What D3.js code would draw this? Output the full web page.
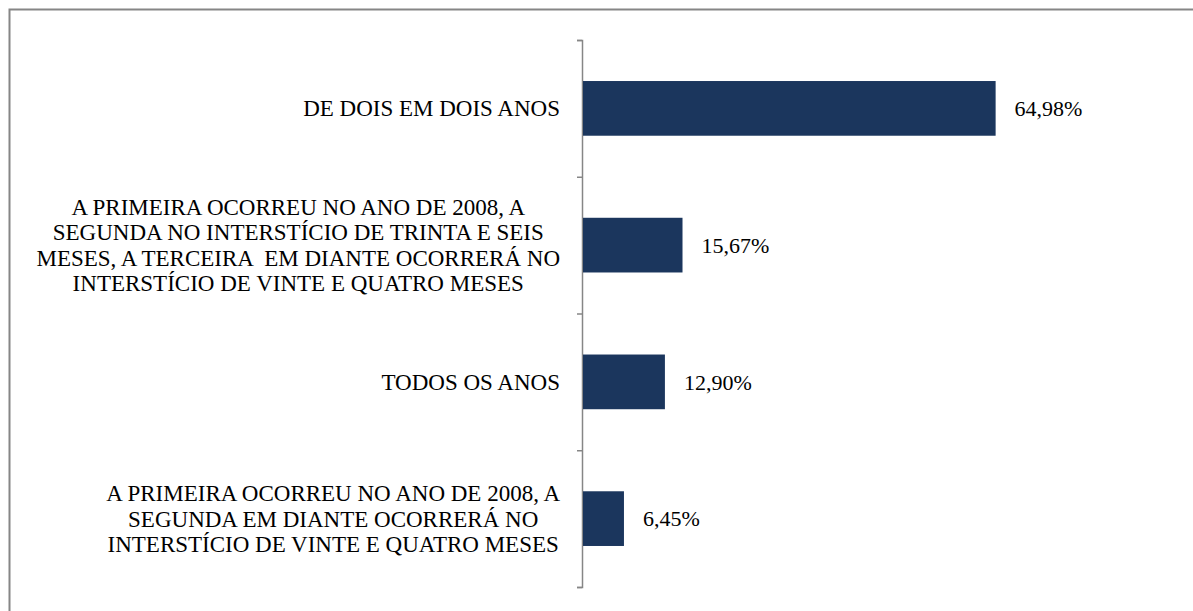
<!DOCTYPE html>
<html>
<head>
<meta charset="utf-8">
<script src="https://cdn.jsdelivr.net/npm/d3@7"></script>
<style>
  body { margin: 0; background: #fff; }
</style>
</head>
<body>
<svg id="chart" width="1193" height="611"></svg>
<script>
// categories (top to bottom), one entry per line of the label
var categories = [
    "DE DOIS EM DOIS ANOS",
    "A PRIMEIRA OCORREU NO ANO DE 2008, A\nSEGUNDA NO INTERSTÍCIO DE TRINTA E SEIS\nMESES, A TERCEIRA  EM DIANTE OCORRERÁ NO\nINTERSTÍCIO DE VINTE E QUATRO MESES",
    "TODOS OS ANOS",
    "A PRIMEIRA OCORREU NO ANO DE 2008, A\nSEGUNDA EM DIANTE OCORRERÁ NO\nINTERSTÍCIO DE VINTE E QUATRO MESES"
];
var values = [64.98, 15.67, 12.90, 6.45];
var valueLabels = ["64,98%", "15,67%", "12,90%", "6,45%"];

var barColor = "#1b365d",
    axisColor = "#868686",
    fontFamily = "Liberation Serif",
    labelSize = 23,
    valueSize = 22,
    lineHeight = 25.5;

var svg = d3.select("#chart");

// outer frame
svg.append("rect")
    .attr("x", 9.5)
    .attr("y", 9.5)
    .attr("width", 1200)
    .attr("height", 620)
    .attr("fill", "#fff")
    .attr("stroke", axisColor)
    .attr("stroke-width", 2);

var y = d3.scaleBand()
    .domain(d3.range(categories.length))
    .range([40, 587])
    .paddingInner(0.6)
    .paddingOuter(0.3);

var x = d3.scaleLinear()
    .domain([0, 70])
    .range([583, 1027.5]);

// category axis, ticks sit between categories
var yTicks = d3.scaleLinear()
    .domain([0, categories.length])
    .range([40, 587]);

var axis = svg.append("g")
    .attr("transform", "translate(582,0)")
    .call(d3.axisLeft(yTicks)
        .ticks(categories.length)
        .tickSize(5)
        .tickFormat(""));
axis.selectAll("path, line")
    .attr("stroke", axisColor)
    .attr("stroke-width", 1.5);

svg.append("g")
    .selectAll("rect")
    .data(values)
    .join("rect")
    .attr("x", x(0))
    .attr("y", function(d, i) { return y(i); })
    .attr("width", function(d) { return x(d) - x(0); })
    .attr("height", y.bandwidth())
    .attr("fill", barColor);

svg.append("g")
    .attr("font-family", fontFamily)
    .attr("font-size", valueSize)
    .selectAll("text")
    .data(valueLabels)
    .join("text")
    .attr("x", function(d, i) { return x(values[i]) + 19; })
    .attr("y", function(d, i) { return y(i) + y.bandwidth() / 2; })
    .attr("dy", "0.35em")
    .text(function(d) { return d; });

// category labels: lines centred on each other, widest line ends at x=560
var labels = svg.append("g")
    .attr("font-family", fontFamily)
    .attr("font-size", labelSize)
    .selectAll("text")
    .data(categories)
    .join("text")
    .attr("text-anchor", "middle")
    .style("white-space", "pre");

labels.each(function(d, i) {
    var t = d3.select(this);
    var lines = d.split("\n");
    var cy = y(i) + y.bandwidth() / 2;
    lines.forEach(function(line, j) {
        t.append("tspan")
            .attr("y", cy + (j - (lines.length - 1) / 2) * lineHeight)
            .attr("dy", "0.35em")
            .text(line);
    });
    var widest = d3.max(t.selectAll("tspan").nodes(), function(n) {
        return n.getComputedTextLength();
    });
    t.selectAll("tspan").attr("x", 560 - widest / 2);
});
</script>
</body>
</html>
